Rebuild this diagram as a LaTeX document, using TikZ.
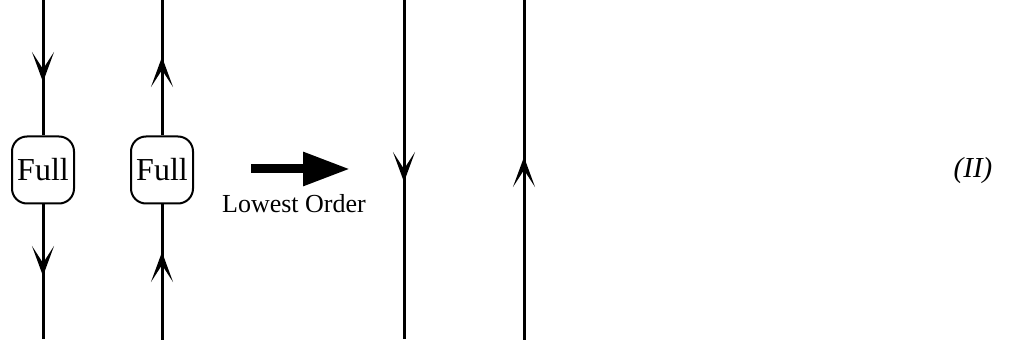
\documentclass[tikz,border=0pt]{standalone}
\usepackage{fontspec}
\setmainfont{Liberation Serif}
\usetikzlibrary{arrows.meta}
\begin{document}
\begin{tikzpicture}[x=1pt,y=-1pt,
  fermion/.style={line width=3pt},
  tipline/.style={line width=3pt,-{Stealth[length=30pt,width=22pt,inset=17pt]}},
  fullbox/.style={draw,line width=2pt,rounded corners=15pt,minimum width=62pt,minimum height=67pt,inner sep=0pt,fill=white,font=\fontsize{32}{32}\selectfont},
  bigarrow/.style={line width=9pt,-{Triangle[length=47pt,width=32pt]}}]
\useasboundingbox (0,0) rectangle (1029,347);
% line 1
\coordinate (t1) at (43,0);
\coordinate (b1) at (43,339);
\node[fullbox] (box1) at (43,170) {Full};
\coordinate (a1) at (43,82);
\coordinate (a2) at (43,276);
\draw[fermion] (t1) -- (box1.north);
\draw[fermion] (box1.south) -- (b1);
\draw[tipline] (t1) -- (a1);
\draw[tipline] (box1.south) -- (a2);
% line 2
\coordinate (t2) at (162,0);
\coordinate (b2) at (162,340);
\node[fullbox] (box2) at (162,170) {Full};
\coordinate (a3) at (162,57);
\coordinate (a4) at (162,252);
\draw[fermion] (t2) -- (box2.north);
\draw[fermion] (box2.south) -- (b2);
\draw[tipline] (box2.north) -- (a3);
\draw[tipline] (b2) -- (a4);
% big arrow
\coordinate (s) at (251,169);
\coordinate (e) at (350,169);
\draw[bigarrow] (s) -- (e);
\node[anchor=base,inner sep=0pt,font=\fontsize{26}{26}\selectfont] (lo) at (294,213) {Lowest Order};
% line 3
\coordinate (t3) at (404,0);
\coordinate (b3) at (404,339);
\coordinate (a5) at (404,182);
\draw[fermion] (t3) -- (b3);
\draw[tipline] (t3) -- (a5);
% line 4
\coordinate (t4) at (524,0);
\coordinate (b4) at (524,340);
\coordinate (a6) at (524,157);
\draw[fermion] (b4) -- (t4);
\draw[tipline] (b4) -- (a6);
% label
\node[anchor=base,inner sep=0pt,font=\fontsize{29}{29}\selectfont\itshape] (lab) at (973,178) {(II)};
\end{tikzpicture}
\end{document}
